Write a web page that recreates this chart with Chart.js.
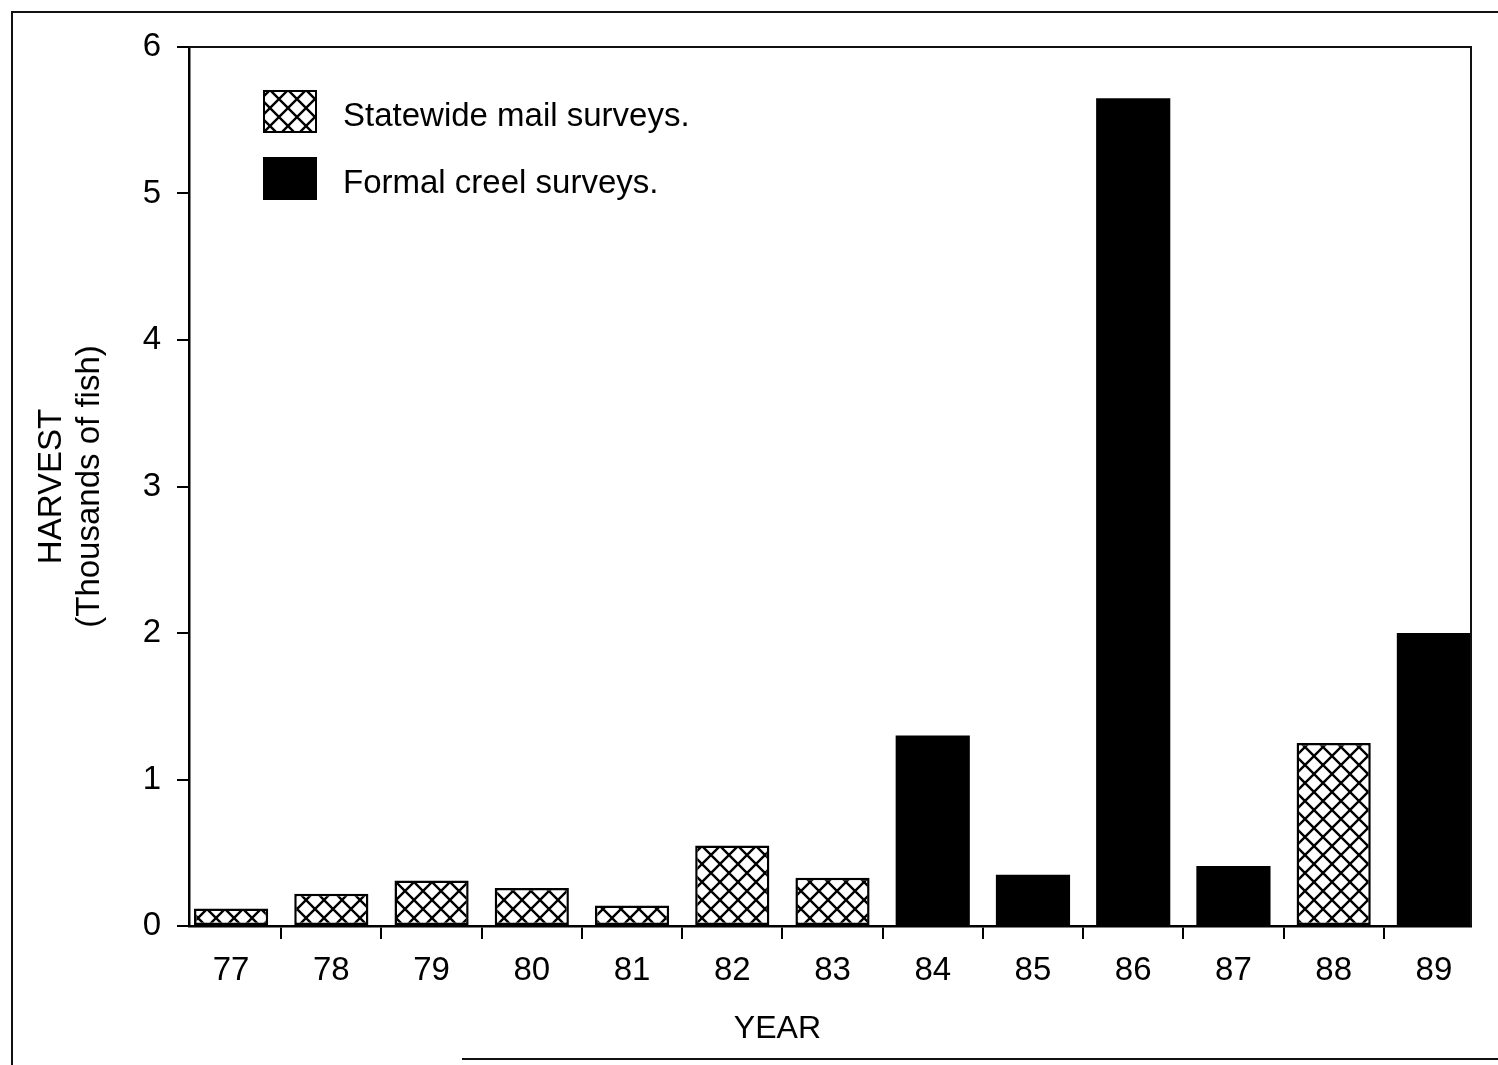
<!DOCTYPE html>
<html>
<head>
<meta charset="utf-8">
<script src="https://cdn.jsdelivr.net/npm/chart.js@4.4.1/dist/chart.umd.min.js"></script>
<style>
  html, body { margin: 0; padding: 0; background: #ffffff; }
  #wrap { width: 1498px; height: 1065px; position: relative; }
  canvas { display: block; }
</style>
</head>
<body>
<div id="wrap"><canvas id="c" width="1498" height="1065"></canvas></div>
<script>
// ---- data ----
const years = [77, 78, 79, 80, 81, 82, 83, 84, 85, 86, 87, 88, 89];
const mailSurveys  = [0.12, 0.22, 0.31, 0.26, 0.14, 0.55, 0.33, null, null, null, null, 1.25, null];
const creelSurveys = [null, null, null, null, null, null, null, 1.30, 0.35, 5.65, 0.41, null, 2.00];
const yTicks = [0, 1, 2, 3, 4, 5, 6];
const seriesLabels = ['Statewide mail surveys.', 'Formal creel surveys.'];
const yTitleLines = ['HARVEST', '(Thousands of fish)'];
const xTitle = 'YEAR';

// ---- style ----
const FONT = "'Liberation Sans', Arial, Helvetica, sans-serif";
const INK = '#000000';

function makeHatch() {
  const s = 18;
  const c = document.createElement('canvas');
  c.width = s; c.height = s;
  const g = c.getContext('2d');
  g.fillStyle = '#ffffff';
  g.fillRect(0, 0, s, s);
  g.strokeStyle = '#000000';
  g.lineWidth = 2.4;
  g.beginPath();
  for (const dx of [-s, 0, s]) {
    g.moveTo(dx, 0); g.lineTo(dx + s, s);
    g.moveTo(dx + s, 0); g.lineTo(dx, s);
  }
  g.stroke();
  return g.createPattern(c, 'repeat');
}

const canvas = document.getElementById('c');
const ctx = canvas.getContext('2d');
const hatch = makeHatch();

Chart.defaults.font.family = FONT;
Chart.defaults.font.size = 33;
Chart.defaults.color = INK;

const framePlugin = {
  id: 'frame',
  afterDraw(chart) {
    const { ctx, chartArea: a } = chart;
    ctx.save();
    ctx.strokeStyle = '#111';
    ctx.lineWidth = 2;
    // plot box top & right
    ctx.beginPath();
    ctx.moveTo(a.left, a.top);
    ctx.lineTo(a.right, a.top);
    ctx.lineTo(a.right, a.bottom);
    ctx.stroke();
    // outer page frame
    ctx.beginPath();
    ctx.moveTo(1498, 12);
    ctx.lineTo(12, 12);
    ctx.lineTo(12, 1065);
    ctx.moveTo(462, 1059);
    ctx.lineTo(1498, 1059);
    ctx.stroke();

    // legend inside plot
    const boxX = a.left + 74, boxW = 54, boxH = 43;
    const rows = [a.top + 43, a.top + 110];
    chart.data.datasets.forEach((ds, i) => {
      const y = rows[i];
      ctx.fillStyle = ds.backgroundColor;
      ctx.fillRect(boxX, y, boxW, boxH);
      ctx.strokeStyle = '#000';
      ctx.lineWidth = 2;
      ctx.strokeRect(boxX + 1, y + 1, boxW - 2, boxH - 2);
      ctx.fillStyle = INK;
      ctx.font = '33px ' + FONT;
      ctx.textBaseline = 'middle';
      ctx.textAlign = 'left';
      ctx.fillText(ds.label, boxX + 80, y + boxH / 2 + 5);
    });

    // x axis title
    ctx.font = '32px ' + FONT;
    ctx.textAlign = 'center';
    ctx.textBaseline = 'middle';
    ctx.fillStyle = INK;
    ctx.fillText(xTitle, a.left + 0.459 * (a.right - a.left), 1029);
    ctx.restore();
  }
};

new Chart(ctx, {
  type: 'bar',
  data: {
    labels: years,
    datasets: [
      {
        label: seriesLabels[0],
        data: mailSurveys,
        backgroundColor: hatch,
        borderColor: '#000',
        borderWidth: 2.5,
        borderSkipped: false,
        skipNull: true,
        categoryPercentage: 1.0,
        barPercentage: 0.74
      },
      {
        label: seriesLabels[1],
        data: creelSurveys,
        backgroundColor: '#000000',
        borderColor: '#000',
        borderWidth: 0,
        skipNull: true,
        categoryPercentage: 1.0,
        barPercentage: 0.74
      }
    ]
  },
  options: {
    responsive: false,
    animation: false,
    devicePixelRatio: 1,
    layout: { padding: { left: 12, top: 47, right: 27, bottom: 0 } },
    plugins: {
      legend: { display: false },
      tooltip: { enabled: false },
      title: { display: false }
    },
    scales: {
      x: {
        type: 'linear',
        min: 76.58,
        max: 89.37,
        offset: false,
        afterBuildTicks: (s) => { s.ticks = years.map(v => ({ value: v })); },
        afterFit: (s) => { s.height = 139; },
        grid: { drawOnChartArea: false, drawTicks: true, tickLength: 13, color: '#000', lineWidth: 2 },
        border: { display: true, color: '#000', width: 2.5 },
        ticks: {
          autoSkip: false, maxRotation: 0, padding: 12,
          font: { size: 33 }, color: INK,
          callback: (v) => String(v)
        }
      },
      y: {
        min: 0,
        max: 6,
        afterBuildTicks: (s) => { s.ticks = yTicks.map(v => ({ value: v })); },
        afterFit: (s) => { s.width = 177; },
        grid: { drawOnChartArea: false, drawTicks: true, tickLength: 12, color: '#000', lineWidth: 2 },
        border: { display: true, color: '#000', width: 2.5 },
        ticks: { padding: 16, font: { size: 33 }, color: INK },
        title: {
          display: true,
          text: yTitleLines,
          font: { size: 33, lineHeight: 1.15 },
          color: INK,
          padding: { top: 21, bottom: 0 }
        }
      }
    }
  },
  plugins: [framePlugin]
});
</script>
</body>
</html>
